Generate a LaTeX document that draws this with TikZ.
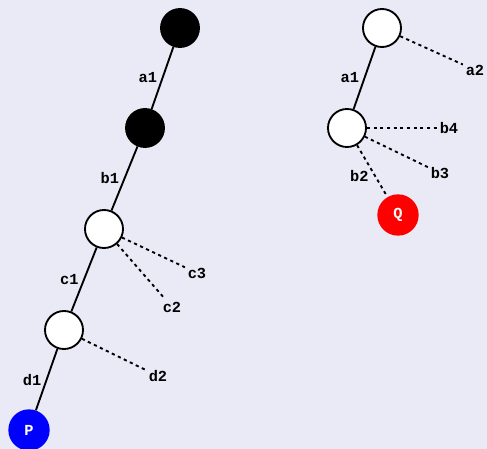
\documentclass[tikz,border=0pt]{standalone}
\usepackage{fontspec}
\setmonofont{Liberation Mono}
\definecolor{bgcol}{HTML}{EAEAF6}
\begin{document}
\begin{tikzpicture}[x=0.75pt,y=-0.75pt,
  every node/.style={font=\fontsize{11.5}{13}\selectfont\ttfamily\bfseries},
  vtx/.style={circle,draw,line width=1.4pt,fill=white,minimum size=28.5pt,inner sep=0pt},
  cutvtx/.style={vtx,fill=black},
  endvtx/.style={circle,minimum size=31pt,inner sep=0pt,text=white},
  solidedge/.style={line width=1.4pt},
  dashedge/.style={line width=1.4pt,dash pattern=on 2.4pt off 2.6pt},
  leaf/.style={inner sep=2pt},
  elabel/.style={midway,left=0pt}]
\fill[bgcol](0,0)rectangle(487,449);
\useasboundingbox(0,0)rectangle(487,449);

%左の木
\node[cutvtx](L1)at(180,28){};
\node[cutvtx](L2)at(145,128){};
\node[vtx](L3)at(104,229){};
\node[vtx](L4)at(64,330){};
\node[endvtx,fill=blue](P)at(29,430){P};
\node[leaf](c3)at(197,273){c3};
\node[leaf](c2)at(172,307){c2};
\node[leaf](d2)at(158,376){d2};

\draw[solidedge](L1)--node[elabel]{a1}(L2);
\draw[solidedge](L2)--node[elabel]{b1}(L3);
\draw[solidedge](L3)--node[elabel]{c1}(L4);
\draw[solidedge](L4)--node[elabel]{d1}(P);
\draw[dashedge](L3)--(c3);
\draw[dashedge](L3)--(c2);
\draw[dashedge](L4)--(d2);

%右の木
\node[vtx](R1)at(382,28){};
\node[vtx](R2)at(347,128){};
\node[endvtx,fill=red](Q)at(398,215){Q};
\node[leaf](a2)at(475,70){a2};
\node[leaf](b4)at(449,128){b4};
\node[leaf](b3)at(440,173){b3};

\draw[solidedge](R1)--node[elabel]{a1}(R2);
\draw[dashedge](R1)--(a2);
\draw[dashedge](R2)--(b4);
\draw[dashedge](R2)--(b3);
\draw[dashedge](R2)--node[pos=0.6,left=1pt]{b2}(Q);
\end{tikzpicture}
\end{document}
